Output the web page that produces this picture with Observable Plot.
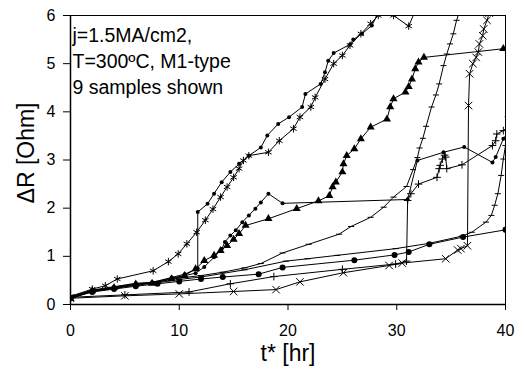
<!DOCTYPE html>
<html><head><meta charset="utf-8">
<script src="https://cdn.jsdelivr.net/npm/d3@7"></script>
<script src="https://cdn.jsdelivr.net/npm/@observablehq/plot@0.6"></script>
<style>body{margin:0;background:#fff}svg{display:block}</style>
</head><body><div id="chart"></div>
<script>
const xTicks = [0, 10, 20, 30, 40];
const yTicks = [0, 1, 2, 3, 4, 5, 6];
const xTitle = "t* [hr]";
const yTitle = "\u0394R [Ohm]";
const noteLines = ["j=1.5MA/cm2,", "T=300\u00baC, M1-type", "9 samples shown"];

// each sample: [t*, deltaR]
const sampleA = [[0,0.16],[2,0.3],[4,0.37],[6,0.44],[7.5,0.46],[9.3,0.56],[10.5,0.63],[11.7,0.75],[11.7,1.92],[12.6,2.09],[13.2,2.3],[13.9,2.54],[14.7,2.75],[15.5,2.92],[16.4,3.09],[17.5,3.26],[18.1,3.51],[19.1,3.75],[20.1,3.89],[21.3,4.1],[21.6,4.37],[23.0,4.58],[23.4,4.82],[23.7,5.06],[24.2,5.22],[25.7,5.4],[26.0,5.5],[26.8,5.62],[27.7,5.79],[28.3,6.05]];
const sampleB = [[0,0.17],[2,0.32],[3.2,0.39],[4.3,0.53],[7.6,0.7],[9.0,0.89],[9.9,1.05],[10.7,1.26],[11.6,1.5],[12.4,1.75],[13.1,1.98],[13.8,2.23],[14.4,2.44],[15.0,2.64],[15.5,2.82],[15.9,2.99],[16.4,3.09],[18.2,3.16],[19.2,3.4],[20.5,3.65],[21.1,3.89],[22.1,4.1],[22.5,4.3],[23.4,4.68],[24.2,5.0],[25.0,5.17],[25.7,5.38],[26.7,5.62],[27.6,5.83],[28.3,6.0],[29.7,6.0],[31.1,5.78],[31.8,6.15]];
const sampleC = [[0,0.14],[2,0.29],[4,0.36],[6,0.43],[7.5,0.45],[9.3,0.55],[10.5,0.6],[11.5,0.65],[12.3,0.78],[13.2,0.98],[13.9,1.15],[14.2,1.3],[14.7,1.43],[15.2,1.54],[15.8,1.71],[16.4,1.85],[17.0,1.99],[17.5,2.12],[18.2,2.3],[19.5,2.1],[31.0,2.18],[31.9,2.99],[34.3,3.16],[36.2,3.27],[38.8,2.95],[39.1,3.06],[39.8,3.44],[40.3,3.6]];
const sampleD = [[0,0.12],[2,0.28],[4,0.35],[6,0.42],[7.5,0.44],[9.3,0.53],[10.5,0.6],[11.5,0.74],[12.3,0.91],[13.2,1.02],[13.8,1.12],[14.4,1.22],[15.0,1.35],[15.5,1.47],[16.1,1.64],[18.2,1.78],[20.8,1.99],[22.8,2.15],[23.8,2.26],[24.1,2.44],[24.4,2.54],[25.0,2.75],[25.1,2.92],[25.4,3.09],[26.1,3.23],[26.7,3.44],[27.6,3.68],[29.1,3.85],[29.4,4.1],[29.7,4.27],[30.8,4.41],[31.1,4.52],[31.4,4.68],[31.7,4.89],[32.0,5.03],[32.5,5.13],[39.8,5.31],[40.2,5.32]];
const sampleE = [[0,0.15],[5,0.2],[10.9,0.26],[14.7,0.43],[18.7,0.58],[25.0,0.73],[29.9,0.84],[30.9,0.9],[31.0,2.16],[31.3,2.3],[32.0,2.5],[33.7,2.64],[33.9,2.82],[34.0,2.89],[34.2,3.02],[34.4,3.1],[34.5,3.06],[34.6,2.82],[36.0,2.9],[38.8,3.3],[39.1,3.4],[39.2,3.54],[39.8,3.61],[40.3,3.7]];
const sampleF = [[0,0.15],[2,0.28],[4,0.34],[6,0.42],[8,0.47],[10,0.55],[12,0.6],[14,0.67],[16,0.76],[17.5,0.85],[19.5,1.07],[21.9,1.25],[24.7,1.46],[25.8,1.62],[27.6,1.81],[28.8,2.02],[29.7,2.23],[30.9,2.45],[31.5,2.8],[31.9,3.05],[32.1,3.25],[32.4,3.45],[32.7,3.7],[33.2,4.1],[33.6,4.35],[33.9,4.58],[34.3,4.96],[34.6,5.2],[34.9,5.41],[35.2,5.62],[35.5,5.9],[35.8,6.1]];
const sampleH = [[0,0.14],[2,0.27],[4,0.33],[6,0.4],[8,0.45],[10,0.52],[12,0.57],[16,0.72],[19.8,0.9],[21.8,0.95],[24.5,1.02],[29.9,1.16],[33.0,1.27],[36.0,1.42],[36.9,1.5],[38.2,1.71],[38.7,1.85],[39.0,2.06],[39.3,2.3],[39.6,2.68],[39.8,3.02],[40.0,3.3],[40.2,3.9],[40.4,4.5]];
const sampleI = [[0,0.13],[5,0.18],[10,0.22],[15,0.27],[18.9,0.31],[21.1,0.47],[25.1,0.66],[29.3,0.81],[30.5,0.86],[34.5,0.95],[35.6,1.13],[35.9,1.16],[36.5,1.22],[36.6,4.13],[36.7,4.79],[37.0,5.0],[37.3,5.13],[37.5,5.24],[37.6,5.41],[37.9,5.58],[38.0,5.72],[38.3,5.9],[38.5,6.05]];
const sampleJ = [[0,0.13],[2,0.26],[4,0.32],[6,0.38],[8,0.43],[10,0.48],[12,0.53],[14,0.57],[17.3,0.63],[19.5,0.77],[26.1,0.92],[29.8,1.03],[31.1,1.09],[33.0,1.25],[36.1,1.4],[40.0,1.55]];

const sampleList = [sampleA, sampleB, sampleC, sampleD, sampleE, sampleF, sampleH, sampleI, sampleJ];
const markerList = ["dotS", "asterisk", "dotS", "triangle", "plus", "dash", "dash", "times", "dotL"];

const rows = [];
sampleList.forEach((s, i) => s.forEach(([t, r]) => rows.push({s: i, t, r, m: markerList[i]})));

const dashSymbol = {draw(ctx, size) { const h = Math.sqrt(size / Math.PI); ctx.moveTo(-h, 0); ctx.lineTo(h, 0); }};
const font = "'Liberation Sans', Arial, Helvetica, sans-serif";

const chart = Plot.plot({
  width: 525, height: 371,
  marginLeft: 70, marginRight: 20, marginTop: 15, marginBottom: 67,
  style: {fontFamily: font, background: "#fff", color: "#000"},
  x: {domain: [0, 40]},
  y: {domain: [0, 6]},
  marks: [
    Plot.frame({stroke: "#000", strokeWidth: 1}),
    Plot.line(rows, {x: "t", y: "r", z: "s", stroke: "#000", strokeWidth: 1, clip: true}),
    Plot.dot(rows.filter(d => d.m === "dotS"), {x: "t", y: "r", r: 2, fill: "#000", stroke: "none", clip: true}),
    Plot.dot(rows.filter(d => d.m === "dotL"), {x: "t", y: "r", r: 3, fill: "#000", stroke: "none", clip: true}),
    Plot.dot(rows.filter(d => d.m === "triangle"), {x: "t", y: "r", r: 3, symbol: "triangle", fill: "#000", stroke: "none", clip: true}),
    Plot.dot(rows.filter(d => d.m === "asterisk"), {x: "t", y: "r", r: 3.5, symbol: "asterisk", fill: "none", stroke: "#000", strokeWidth: 1, clip: true}),
    Plot.dot(rows.filter(d => d.m === "times"), {x: "t", y: "r", r: 3.5, symbol: "times", fill: "none", stroke: "#000", strokeWidth: 1, clip: true}),
    Plot.dot(rows.filter(d => d.m === "plus"), {x: "t", y: "r", r: 2.6, symbol: "plus", fill: "none", stroke: "#000", strokeWidth: 1, clip: true}),
    Plot.dot(rows.filter(d => d.m === "dash"), {x: "t", y: "r", r: 3, symbol: dashSymbol, fill: "none", stroke: "#000", strokeWidth: 1, clip: true}),
    Plot.ruleX([0], {stroke: "#000", strokeWidth: 1.5}),
    Plot.ruleY([0], {stroke: "#000", strokeWidth: 1.5}),
    Plot.axisY({ticks: yTicks, tickSize: 7, tickPadding: 8, fontSize: 16, label: null, tickFormat: d3.format("d"), stroke: "#000"}),
    Plot.axisX({ticks: xTicks, tickSize: 6, tickPadding: 14, fontSize: 16, label: null, tickFormat: d3.format("d"), stroke: "#000"}),
    Plot.text([xTitle], {frameAnchor: "bottom", dy: 49, fontSize: 23, textAnchor: "middle", lineAnchor: "middle", fill: "#000"}),
    Plot.text([yTitle], {frameAnchor: "left", dx: -44, dy: -7, rotate: -90, fontSize: 23, textAnchor: "middle", lineAnchor: "middle", fill: "#000"}),
    Plot.text([noteLines.join("\n")], {frameAnchor: "top-left", dx: 2, dy: 8, fontSize: 19.5, lineHeight: 1.33, textAnchor: "start", lineAnchor: "top", fill: "#000"})
  ]
});
document.getElementById("chart").appendChild(chart);
</script>
</body></html>
